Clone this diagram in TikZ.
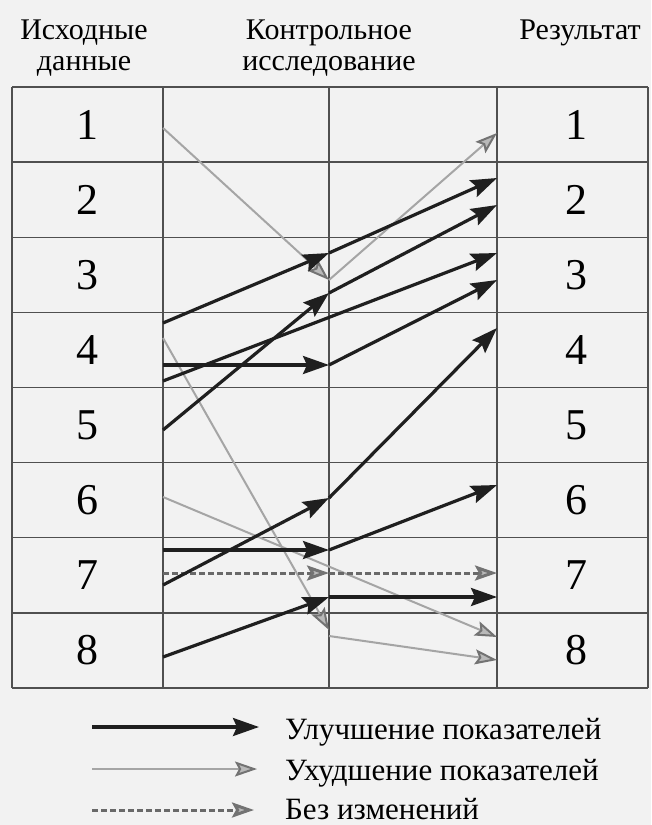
\documentclass[tikz,border=0pt]{standalone}
\usepackage{fontspec}
\setmainfont{Liberation Serif}
\usetikzlibrary{arrows.meta}
\definecolor{bgc}{RGB}{242,242,242}
\definecolor{gridc}{RGB}{80,80,80}
\definecolor{worse}{RGB}{165,165,165}
\definecolor{same}{RGB}{115,115,115}
\definecolor{dashc}{RGB}{105,105,105}
\definecolor{headfill}{RGB}{185,185,185}
\begin{document}
\begin{tikzpicture}[x=1pt,y=-1pt,
  improve/.style={line width=3.2pt, black!88, -{Stealth[length=26pt,width=18pt,inset=4pt]}},
  worsen/.style={line width=2pt, worse, -{Stealth[length=22pt,width=15pt,inset=4pt,fill=headfill,color=same]}},
  nochange/.style={line width=3pt, dashc, dash pattern=on 6pt off 3pt, -{Stealth[length=22pt,width=15pt,inset=4pt,fill=headfill,color=same]}},
  hdr/.style={font=\fontsize{30}{31}\selectfont, align=center, inner sep=0pt, anchor=north},
  num/.style={font=\fontsize{44}{44}\selectfont, inner sep=0pt},
  leg/.style={font=\fontsize{31}{32}\selectfont, inner sep=0pt, anchor=base west},
  gridline/.style={gridc, line width=1.3pt}]
\fill[bgc] (0,0) rectangle (651,825);
\useasboundingbox (0,0) rectangle (651,825);

% headers
\node[hdr] (h1) at (84,20) {Исходные\\данные};
\node[hdr] (h2) at (329,20) {Контрольное\\исследование};
\node[hdr] (h3) at (580,20) {Результат};

% grid
\foreach \i in {0,...,8} \draw[gridline] (12,{87+75.125*\i}) -- (648,{87+75.125*\i});
\foreach \x in {12,163,329,497,648} \draw[gridline] (\x,87) -- (\x,688);

% numbers
\foreach \i in {1,...,8} {
  \node[num] (L\i) at (87,{87+75.125*(\i-0.5)}) {\i};
  \node[num] (R\i) at (576,{87+75.125*(\i-0.5)}) {\i};
}

% coordinates
\coordinate (a1) at (163,323); \coordinate (m1) at (329,253); \coordinate (r1) at (497,178);
\coordinate (a2) at (163,430); \coordinate (m2) at (329,293); \coordinate (r2) at (497,205);
\coordinate (a3) at (163,381); \coordinate (r3) at (497,253);
\coordinate (a4) at (163,365); \coordinate (m4) at (329,365); \coordinate (r4) at (497,280);
\coordinate (a5) at (163,585); \coordinate (m5) at (329,498); \coordinate (r5) at (497,328);
\coordinate (a6) at (163,550); \coordinate (m6) at (329,550); \coordinate (r6) at (497,485);
\coordinate (a7) at (163,657); \coordinate (m7) at (329,597); \coordinate (r7) at (497,597);
\coordinate (g1) at (163,128); \coordinate (gm1) at (329,280); \coordinate (gr1) at (497,133);
\coordinate (g2) at (163,338); \coordinate (gm2) at (329,630); \coordinate (gm2b) at (329,636); \coordinate (gr2) at (497,660);
\coordinate (g3) at (163,497); \coordinate (gr3) at (497,637);
\coordinate (d1) at (163,573); \coordinate (dm) at (329,573); \coordinate (dr) at (497,573);

% worsening
\draw[worsen] (g1) -- (gm1);
\draw[worsen] (gm1) -- (gr1);
\draw[worsen] (g2) -- (gm2);
\draw[worsen] (gm2b) -- (gr2);
\draw[worsen] (g3) -- (gr3);
% no change
\draw[nochange] (d1) -- (dm);
\draw[nochange] (dm) -- (dr);
% improvement
\draw[improve] (a1) -- (m1);
\draw[improve] (m1) -- (r1);
\draw[improve] (a2) -- (m2);
\draw[improve] (m2) -- (r2);
\draw[improve] (a3) -- (r3);
\draw[improve] (a4) -- (m4);
\draw[improve] (m4) -- (r4);
\draw[improve] (a5) -- (m5);
\draw[improve] (m5) -- (r5);
\draw[improve] (a6) -- (m6);
\draw[improve] (m6) -- (r6);
\draw[improve] (a7) -- (m7);
\draw[improve] (m7) -- (r7);

% legend
\coordinate (k1a) at (92,727); \coordinate (k1b) at (259,727);
\coordinate (k2a) at (92,769); \coordinate (k2b) at (257,769);
\coordinate (k3a) at (92,810); \coordinate (k3b) at (254,810);
\draw[improve] (k1a) -- (k1b);
\draw[worsen] (k2a) -- (k2b);
\draw[nochange] (k3a) -- (k3b);
\node[leg] (t1) at (285,739) {Улучшение показателей};
\node[leg] (t2) at (285,780) {Ухудшение показателей};
\node[leg] (t3) at (285,819) {Без изменений};
\end{tikzpicture}
\end{document}
